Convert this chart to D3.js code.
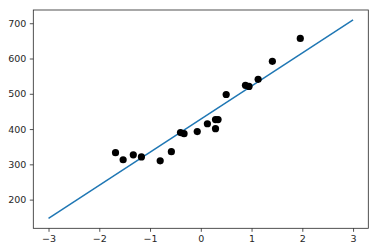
<!DOCTYPE html>
<html>
<head>
<meta charset="utf-8">
<script src="https://cdn.jsdelivr.net/npm/d3@7"></script>
<style>
  body { margin: 0; background: #fff; }
  svg { display: block; }
  .tick text { font-family: "DejaVu Sans", sans-serif; font-size: 9.5px; fill: #262626; }
</style>
</head>
<body>
<div id="chart"></div>
<script>
'use strict';

// scatter points
var xs = [-1.68, -1.53, -1.33, -1.17, -0.80, -0.58, -0.40, -0.33, -0.07, 0.13, 0.29, 0.34, 0.29, 0.50, 0.88, 0.95, 1.13, 1.41, 1.96];
var ys = [333, 313, 327, 321, 310, 336, 390, 387, 393, 415, 427, 427, 401, 498, 524, 521, 541, 592, 657];

// fitted line end points
var lineX = [-3, 3];
var lineY = [146.8, 709.4];

var xTicks = [-3, -2, -1, 0, 1, 2, 3];
var yTicks = [200, 300, 400, 500, 600, 700];

var width = 378, height = 252;
var margin = {top: 10, right: 9.7, bottom: 23.7, left: 33.3};

var svg = d3.select("#chart").append("svg")
  .attr("width", width)
  .attr("height", height);

var x = d3.scaleLinear()
  .domain([-3.3, 3.3])
  .range([margin.left, width - margin.right]);

var y = d3.scaleLinear()
  .domain([118.7, 737.5])
  .range([height - margin.bottom, margin.top]);

var minus = function(v) { return String(v).replace("-", "\u2212"); };

svg.append("g")
  .attr("transform", "translate(0," + (height - margin.bottom) + ")")
  .call(d3.axisBottom(x).tickValues(xTicks).tickFormat(minus).tickSizeOuter(0).tickSize(3.5).tickPadding(3.5))
  .call(g => g.select(".domain").remove());

svg.append("g")
  .attr("transform", "translate(" + margin.left + ",0)")
  .call(d3.axisLeft(y).tickValues(yTicks).tickSizeOuter(0).tickSize(3.5).tickPadding(3.5))
  .call(g => g.select(".domain").remove());

svg.selectAll(".tick line").attr("stroke", "#262626").attr("stroke-width", 0.8);

var line = d3.line()
  .x(function(d, i) { return x(lineX[i]); })
  .y(function(d) { return y(d); });

svg.append("path")
  .datum(lineY)
  .attr("d", line)
  .attr("fill", "none")
  .attr("stroke", "#1f77b4")
  .attr("stroke-width", 1.5);

svg.selectAll("circle")
  .data(xs)
  .enter().append("circle")
  .attr("cx", function(d) { return x(d); })
  .attr("cy", function(d, i) { return y(ys[i]); })
  .attr("r", 3.6)
  .attr("fill", "#000");

// frame
svg.append("rect")
  .attr("x", margin.left)
  .attr("y", margin.top)
  .attr("width", width - margin.left - margin.right)
  .attr("height", height - margin.top - margin.bottom)
  .attr("fill", "none")
  .attr("stroke", "#262626")
  .attr("stroke-width", 0.8);
</script>
</body>
</html>
